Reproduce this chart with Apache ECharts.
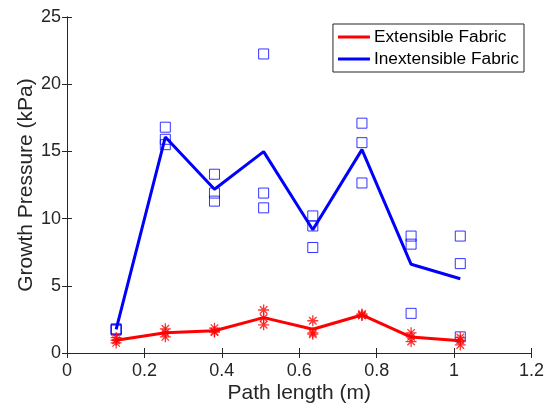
<!DOCTYPE html>
<html>
<head>
<meta charset="utf-8">
<script src="https://cdn.jsdelivr.net/npm/echarts@6/dist/echarts.min.js"></script>
<style>
  html, body { margin: 0; padding: 0; background: #fff; }
  #chart { width: 547px; height: 409px; }
</style>
</head>
<body>
<div id="chart"></div>
<script>
// Path length positions of the measurements (m)
const pathLength = [0.127, 0.254, 0.381, 0.508, 0.635, 0.762, 0.889, 1.016];

// Extensible fabric: three trials per position (kPa) and their average
const extTrial1 = [1.15, 1.80, 1.85, 3.20, 2.40, 2.90, 1.50, 1.15];
const extTrial2 = [0.95, 1.50, 1.60, 2.60, 1.50, 2.80, 1.20, 0.95];
const extTrial3 = [0.75, 1.20, 1.55, 2.10, 1.40, 2.80, 0.85, 0.60];
const extMean   = [0.95, 1.50, 1.66, 2.63, 1.77, 2.83, 1.19, 0.91];

// Inextensible fabric: three trials per position (kPa) and their average
const inextTrial1 = [1.80, 16.80, 13.30, 22.25, 10.20, 17.10, 8.70, 8.70];
const inextTrial2 = [1.75, 15.90, 11.90, 11.90, 9.45, 15.65, 8.10, 6.65];
const inextTrial3 = [1.70, 15.50, 11.30, 10.80, 7.85, 12.65, 2.95, 1.20];
const inextMean   = [1.75, 16.07, 12.18, 14.98, 9.17, 15.13, 6.60, 5.52];

const AXIS = '#262626';
const FONT = '"Liberation Sans", Arial, Helvetica, sans-serif';
const ASTERISK = 'path://M5 0L5 10M0 5L10 5M1.6 1.6L8.4 8.4M8.4 1.6L1.6 8.4';

function pairs(xs, ys) { return xs.map((x, i) => [x, ys[i]]); }

function scatterSeries(trials, symbol, size, color, width, z) {
  return trials.map(t => ({
    type: 'scatter',
    data: pairs(pathLength, t),
    symbol: symbol,
    symbolSize: size,
    itemStyle: { color: 'rgba(0,0,0,0)', borderColor: color, borderWidth: width },
    emphasis: { disabled: true },
    silent: true,
    z: z
  }));
}

// Plain axes along the top and right edges close the box and carry inward ticks
function boxAxis(pos, max, interval) {
  return {
    type: 'value',
    position: pos,
    min: 0, max: max, interval: interval,
    axisLine: { show: true, lineStyle: { color: AXIS, width: 1 } },
    axisTick: { show: true, inside: true, length: 5, lineStyle: { color: AXIS } },
    axisLabel: { show: false },
    splitLine: { show: false }
  };
}

const chart = echarts.init(document.getElementById('chart'), null, { renderer: 'canvas' });

chart.setOption({
  animation: false,
  backgroundColor: '#fff',
  grid: { left: 67, right: 14, top: 17, bottom: 56, containLabel: false },
  legend: {
    right: 23, top: 24,
    orient: 'vertical',
    data: ['Extensible Fabric', 'Inextensible Fabric'],
    icon: 'rect',
    backgroundColor: '#fff',
    borderColor: '#262626',
    borderWidth: 1,
    borderRadius: 0,
    padding: [4, 5, 4, 5],
    itemGap: 4,
    itemWidth: 32,
    itemHeight: 3,
    textStyle: { color: '#000', fontSize: 17.3, fontFamily: FONT, padding: [0, 0, 0, -1], lineHeight: 18 }
  },
  xAxis: [{
    type: 'value',
    min: 0, max: 1.2, interval: 0.2,
    name: 'Path length (m)',
    nameLocation: 'middle',
    nameGap: 30,
    nameMoveOverlap: false,
    nameTextStyle: { color: AXIS, fontSize: 21, fontFamily: FONT },
    axisLine: { show: true, onZero: false, lineStyle: { color: AXIS, width: 1 } },
    axisTick: { show: true, inside: true, length: 5, lineStyle: { color: AXIS } },
    axisLabel: { color: AXIS, fontSize: 18, fontFamily: FONT, margin: 9,
                 formatter: v => String(parseFloat(v.toFixed(1))) },
    splitLine: { show: false }
  }, boxAxis('top', 1.2, 0.2)],
  yAxis: [{
    type: 'value',
    min: 0, max: 25, interval: 5,
    name: 'Growth Pressure (kPa)',
    nameLocation: 'middle',
    nameGap: 30,
    nameMoveOverlap: false,
    nameTextStyle: { color: AXIS, fontSize: 21, fontFamily: FONT },
    axisLine: { show: true, onZero: false, lineStyle: { color: AXIS, width: 1 } },
    axisTick: { show: true, inside: true, length: 5, lineStyle: { color: AXIS } },
    axisLabel: { color: AXIS, fontSize: 18, fontFamily: FONT, margin: 6 },
    splitLine: { show: false }
  }, boxAxis('right', 25, 5)],
  series: [
    ...scatterSeries([inextTrial1, inextTrial2, inextTrial3], 'rect', 10, '#0000ff', 1, 2),
    ...scatterSeries([extTrial1, extTrial2, extTrial3], ASTERISK, 11, '#ff0000', 1.3, 3),
    {
      name: 'Extensible Fabric',
      type: 'line',
      data: pairs(pathLength, extMean),
      symbol: 'none',
      lineStyle: { color: '#ff0000', width: 3 },
      itemStyle: { color: '#ff0000' },
      silent: true,
      z: 4
    },
    {
      name: 'Inextensible Fabric',
      type: 'line',
      data: pairs(pathLength, inextMean),
      symbol: 'none',
      lineStyle: { color: '#0000ff', width: 3 },
      itemStyle: { color: '#0000ff' },
      silent: true,
      z: 4
    }
  ]
});
</script>
</body>
</html>
